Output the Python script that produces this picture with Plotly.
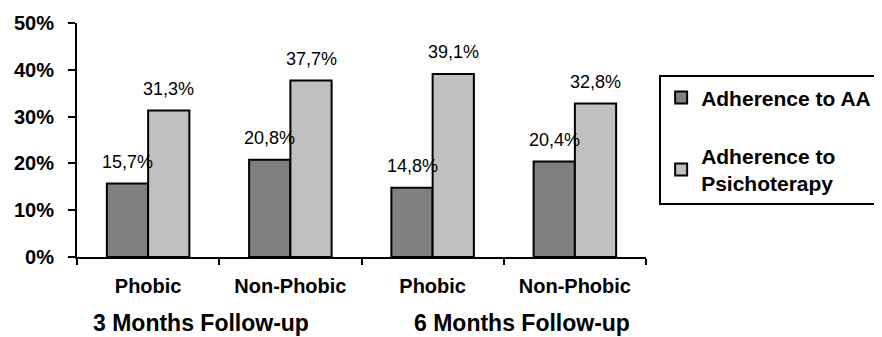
import plotly.graph_objects as go

categories = ["Phobic", "Non-Phobic", "Phobic", "Non-Phobic"]
groups = ["3 Months Follow-up", "6 Months Follow-up"]
series_names = ["Adherence to AA", "Adherence to<br>Psichoterapy"]
aa_values = [0.157, 0.208, 0.148, 0.204]
psy_values = [0.313, 0.377, 0.391, 0.328]
y_ticks = [0, 0.1, 0.2, 0.3, 0.4, 0.5]

colors = ["#808080", "#c0c0c0"]
font_family = "Liberation Sans, Arial, sans-serif"
xpos = list(range(len(categories)))

def fmt(v):
    return f"{v*100:.1f}%".replace(".", ",")

fig = go.Figure()
for name, vals, col, grp in zip(series_names, [aa_values, psy_values], colors, ["a", "b"]):
    fig.add_trace(go.Bar(
        x=xpos, y=vals, name=name, legendgroup=grp,
        marker=dict(color=col, line=dict(color="black", width=2)),
        hoverinfo="skip",
    ))

bargap = 0.42
half = (1 - bargap) / 4
annotations = []
for vals, sign in [(aa_values, -1), (psy_values, 1)]:
    for i, v in enumerate(vals):
        annotations.append(dict(
            x=i + sign * half, y=v, xref="x", yref="y", text=fmt(v),
            showarrow=False, yanchor="bottom", yshift=10,
            font=dict(family=font_family, size=18, color="black"),
        ))
for gname, gx in zip(groups, [0.37, 2.63]):
    annotations.append(dict(
        x=gx, y=-0.282, xref="x", yref="paper", text=f"<b>{gname}</b>",
        showarrow=False, yanchor="middle", xanchor="center",
        font=dict(family=font_family, size=23, color="black"),
    ))

# page body adds an 8px offset; the figure is sized to compensate
fig.update_layout(
    width=874, height=329,
    margin=dict(l=69, r=236, t=15, b=80),
    paper_bgcolor="white", plot_bgcolor="white",
    barmode="group", bargap=bargap, bargroupgap=0,
    showlegend=True,
    legend=dict(
        xref="container", yref="container",
        x=0.745, y=0.795, xanchor="left", yanchor="top",
        bordercolor="black", borderwidth=2, bgcolor="white",
        font=dict(family=font_family, size=21, color="black", weight="bold"),
        traceorder="grouped", tracegroupgap=28,
    ),
    annotations=annotations,
    xaxis=dict(
        range=[-0.5, len(categories) - 0.5],
        tickvals=xpos, ticktext=[f"<b>{c}</b>" for c in categories],
        ticks="outside", ticklen=10, tickcolor="rgba(0,0,0,0)",
        showline=True, linecolor="black", linewidth=2,
        showgrid=False, zeroline=False, automargin=False,
        tickfont=dict(family=font_family, size=20, color="black"),
        minor=dict(ticks="outside", tick0=-0.5, dtick=1, ticklen=6, tickwidth=2, tickcolor="black", showgrid=False),
    ),
    yaxis=dict(
        range=[0, 0.5], tickvals=y_ticks, tickformat=".0%",
        ticks="outside", ticklen=7, tickwidth=2, tickcolor="black",
        showline=True, linecolor="black", linewidth=2,
        showgrid=False, zeroline=False, ticklabelstandoff=10, automargin=False,
        tickfont=dict(family=font_family, size=20, color="black", weight="bold"),
    ),
)

fig.write_html("out.html")
